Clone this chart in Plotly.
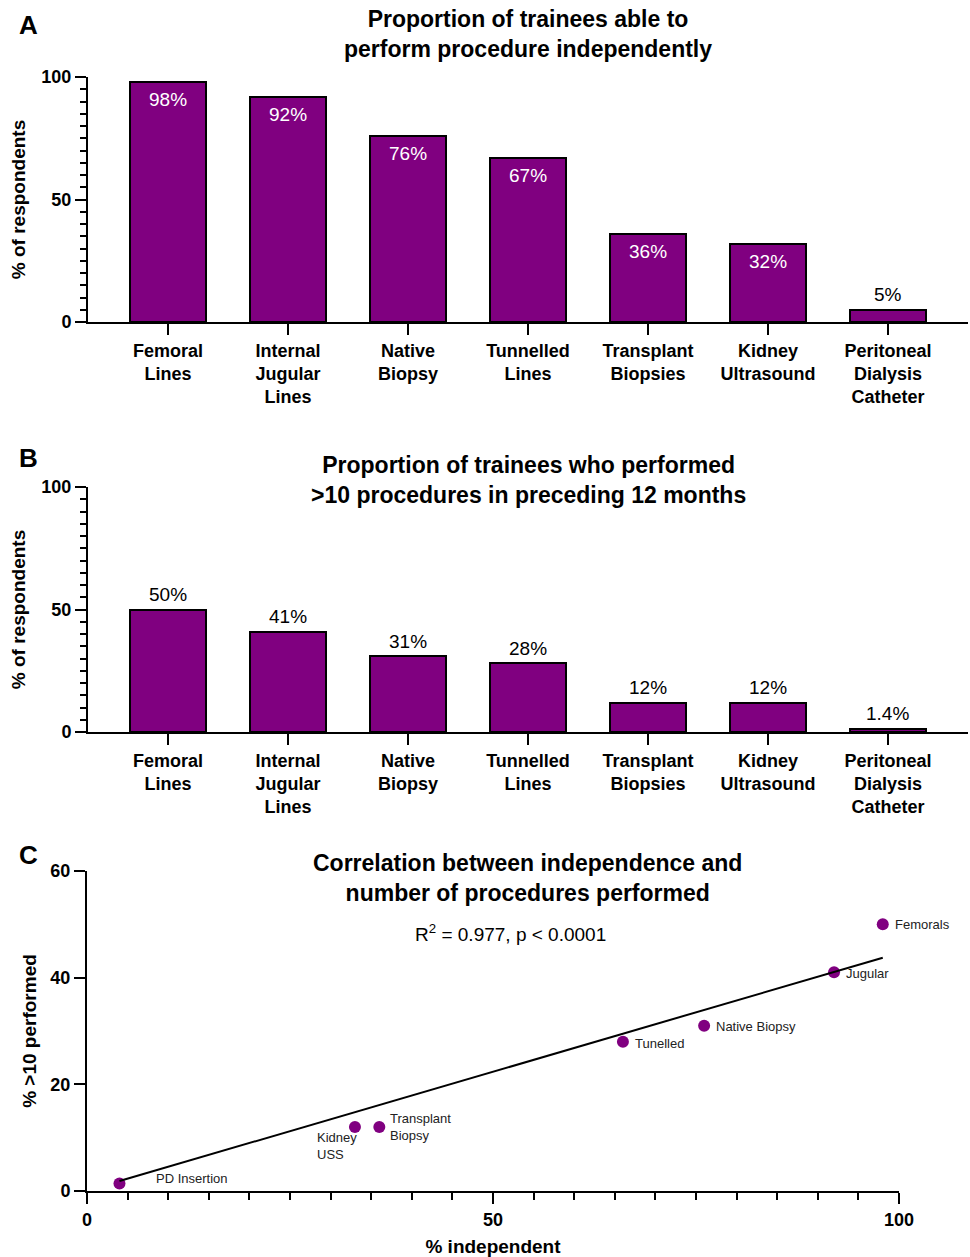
import plotly.graph_objects as go

# ---------------------------------------------------------------- data
procedures = [
    "Femoral<br>Lines",
    "Internal<br>Jugular<br>Lines",
    "Native<br>Biopsy",
    "Tunnelled<br>Lines",
    "Transplant<br>Biopsies",
    "Kidney<br>Ultrasound",
    "Peritoneal<br>Dialysis<br>Catheter",
]
pct_independent = [98, 92, 76, 67, 36, 32, 5]
pct_over_10 = [50, 41, 31, 28, 12, 12, 1.4]

corr_labels = ["Femorals", "Jugular", "Native Biopsy", "Tunelled",
               "Transplant<br>Biopsy", "Kidney<br>USS", "PD Insertion"]
corr_independent = [98, 92, 76, 66, 36, 33, 4]
corr_over_10 = [50, 41, 31, 28, 12, 12, 1.4]

fit_slope = 0.4455
fit_intercept = 0.088
r_squared = 0.977

# ---------------------------------------------------------------- style
W, H = 970, 1257
PURPLE = "#800080"
FONT = "Liberation Sans, Arial, Helvetica, sans-serif"


def fx(px):
    return px / W


def fy(py):
    return 1 - py / H


bold = dict(family=FONT, size=18, color="black", weight="bold")
title_font = dict(family=FONT, size=19, color="black", weight="bold")

# offsets (px) of each point label from its marker
label_offsets = {
    "Femorals": (10, 0, "left"),
    "Jugular": (10, -1, "left"),
    "Native Biopsy": (10, -1, "left"),
    "Tunelled": (10, -2, "left"),
    "Transplant<br>Biopsy": (9, 0, "left"),
    "Kidney<br>USS": (-40, -19, "left"),
    "PD Insertion": (35, 5, "left"),
}

fig = go.Figure()

# ---------------------------------------------------------------- bar panels
cats = list(range(len(procedures)))
for vals, xa, ya in [(pct_independent, "x", "y"), (pct_over_10, "x2", "y2")]:
    fig.add_trace(go.Bar(
        x=cats, y=vals, width=0.633, xaxis=xa, yaxis=ya,
        marker=dict(color=PURPLE, line=dict(color="black", width=2)),
        showlegend=False, hoverinfo="skip",
    ))

# ---------------------------------------------------------------- scatter panel
fig.add_trace(go.Scatter(
    x=corr_independent, y=corr_over_10, mode="markers", xaxis="x3", yaxis="y3",
    marker=dict(color=PURPLE, size=12), cliponaxis=False, showlegend=False,
))
x_lo, x_hi = min(corr_independent), max(corr_independent)
fig.add_trace(go.Scatter(
    x=[x_lo, x_hi],
    y=[fit_intercept + fit_slope * x_lo, fit_intercept + fit_slope * x_hi],
    mode="lines", line=dict(color="black", width=2), xaxis="x3", yaxis="y3",
    cliponaxis=False, showlegend=False,
))

# ---------------------------------------------------------------- axes
def bar_xaxis(domain, anchor):
    return dict(
        domain=domain, anchor=anchor, range=[-0.667, 6.667],
        tickvals=cats, ticktext=procedures, tickfont=bold,
        ticks="outside", ticklen=11, tickwidth=2, tickcolor="black",
        showline=True, linewidth=2, linecolor="black",
        showgrid=False, zeroline=False, fixedrange=True,
    )


def bar_yaxis(domain, anchor):
    return dict(
        domain=domain, anchor=anchor, range=[0, 100],
        tickvals=[0, 50, 100], tickfont=bold,
        ticks="outside", ticklen=11, tickwidth=2, tickcolor="black",
        minor=dict(dtick=5, ticks="outside", ticklen=6, tickwidth=2,
                   tickcolor="black", showgrid=False),
        showline=True, linewidth=2, linecolor="black",
        showgrid=False, zeroline=False,
        title=dict(text="% of respondents", font=title_font, standoff=11),
    )


fig.update_layout(
    width=W, height=H, template="none",
    margin=dict(l=0, r=0, t=0, b=0),
    paper_bgcolor="white", plot_bgcolor="white",
    font=dict(family=FONT, color="black"),
    bargap=0,
    xaxis=bar_xaxis([fx(88), fx(968)], "y"),
    yaxis=bar_yaxis([fy(322), fy(77)], "x"),
    xaxis2=bar_xaxis([fx(88), fx(968)], "y2"),
    yaxis2=bar_yaxis([fy(732), fy(487)], "x2"),
    xaxis3=dict(
        domain=[fx(87), fx(899)], anchor="y3", range=[0, 100],
        tickvals=[0, 50, 100], tickfont=bold,
        ticks="outside", ticklen=11, tickwidth=2, tickcolor="black",
        minor=dict(dtick=5, ticks="outside", ticklen=7, tickwidth=2,
                   tickcolor="black", showgrid=False),
        showline=True, linewidth=2, linecolor="black",
        showgrid=False, zeroline=False,
        title=dict(text="% independent", font=title_font, standoff=11),
    ),
    yaxis3=dict(
        domain=[fy(1191), fy(871)], anchor="x3", range=[0, 60],
        tickvals=[0, 20, 40, 60], tickfont=bold,
        ticks="outside", ticklen=11, tickwidth=2, tickcolor="black",
        showline=True, linewidth=2, linecolor="black",
        showgrid=False, zeroline=False,
        title=dict(text="% >10 performed", font=title_font, standoff=9),
    ),
)

# ---------------------------------------------------------------- annotations
ann = []

# bar value labels: inside (white) for tall bars in panel A, above otherwise
for vals, xa, ya, inside_ok in [(pct_independent, "x", "y", True),
                                (pct_over_10, "x2", "y2", False)]:
    for i, v in enumerate(vals):
        inside = inside_ok and v >= 10
        ann.append(dict(
            x=i, y=v, xref=xa, yref=ya, text=f"{v:g}%", showarrow=False,
            xanchor="center", yanchor="middle",
            yshift=-18 if inside else 15,
            font=dict(family=FONT, size=19, color="white" if inside else "black"),
        ))

# point labels in the correlation panel
for lab, x, y in zip(corr_labels, corr_independent, corr_over_10):
    dx, dy, anchor = label_offsets[lab]
    ann.append(dict(
        x=x, y=y, xref="x3", yref="y3", text=lab, showarrow=False,
        xanchor=anchor, yanchor="middle", align="left",
        xshift=dx, yshift=dy,
        font=dict(family=FONT, size=13, color="#222222"),
    ))

ann.append(dict(
    x=fx(510), y=fy(933), xref="paper", yref="paper",
    text=f"R<sup>2</sup> = {r_squared:.3f}, p &lt; 0.0001", showarrow=False,
    xanchor="center", yanchor="middle",
    font=dict(family=FONT, size=19, color="black"),
))

# panel titles
titles = [
    ("Proportion of trainees able to<br>perform procedure independently", 528, 34),
    ("Proportion of trainees who performed<br>>10 procedures in preceding 12 months", 528, 480),
    ("Correlation between independence and<br>number of procedures performed", 527, 878),
]
for text, cx, cy in titles:
    ann.append(dict(
        x=fx(cx), y=fy(cy), xref="paper", yref="paper", text=text,
        showarrow=False, xanchor="center", yanchor="middle",
        font=dict(family=FONT, size=23, color="black", weight="bold"),
    ))

# panel letters
for letter, cy in [("A", 25), ("B", 458), ("C", 855)]:
    ann.append(dict(
        x=fx(28), y=fy(cy), xref="paper", yref="paper", text=letter,
        showarrow=False, xanchor="center", yanchor="middle",
        font=dict(family=FONT, size=26, color="black", weight="bold"),
    ))

fig.update_layout(annotations=ann)

fig.write_html("out.html")
